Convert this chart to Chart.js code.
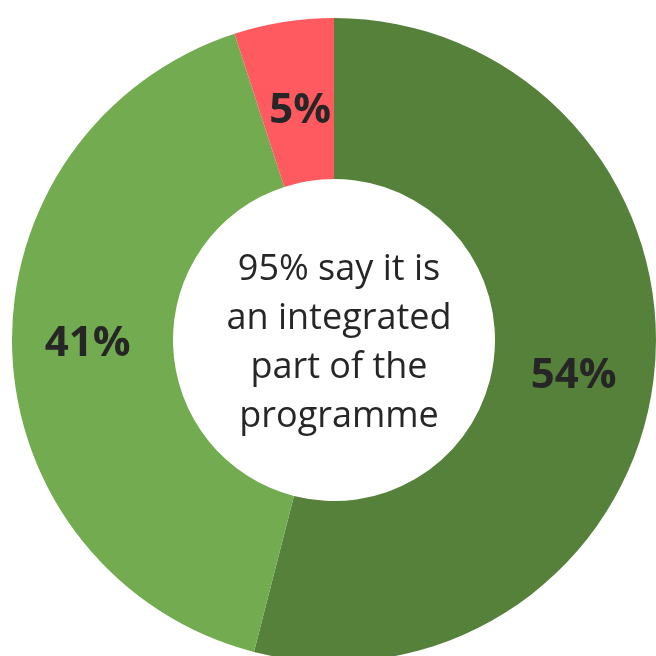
<!DOCTYPE html>
<html>
<head>
<meta charset="utf-8">
<script src="https://cdn.jsdelivr.net/npm/chart.js@4/dist/chart.umd.min.js"></script>
<style>
  html, body { margin: 0; padding: 0; background: #fff; width: 656px; height: 656px; overflow: hidden; }
  #wrap { position: absolute; left: 12px; top: 18px; width: 644px; height: 644px; }
</style>
</head>
<body>
<div id="wrap"><canvas id="c" width="644" height="644"></canvas></div>
<script>
const categories = ['Integrated (strongly)', 'Integrated (partly)', 'Not integrated'];
const values = [54, 41, 5];
const valueLabels = ['54%', '41%', '5%'];
const sliceColors = ['#56813A', '#73AB50', '#FF5A5F'];
const centerLines = ['95% say it is', 'an integrated', 'part of the', 'programme'];

// small per-slice nudges for the value labels, in pixels
const labelNudge = [[0, 6], [-5, -4], [4, 10]];

const sliceLabels = {
  id: 'sliceLabels',
  afterDatasetsDraw(chart) {
    const ctx = chart.ctx;
    const meta = chart.getDatasetMeta(0);
    ctx.save();
    ctx.fillStyle = '#262626';
    ctx.font = 'bold 42px "Open Sans", "Noto Sans", sans-serif';
    ctx.textAlign = 'center';
    ctx.textBaseline = 'middle';
    meta.data.forEach((arc, i) => {
      const p = arc.tooltipPosition();
      ctx.fillText(valueLabels[i], p.x + labelNudge[i][0], p.y + labelNudge[i][1]);
    });
    ctx.restore();
  }
};

const centerText = {
  id: 'centerText',
  afterDatasetsDraw(chart) {
    const ctx = chart.ctx;
    const arc = chart.getDatasetMeta(0).data[0];
    const cx = arc.x + 5, cy = arc.y + 3;
    const lh = 49;
    ctx.save();
    ctx.fillStyle = '#262626';
    ctx.font = '36px "Open Sans", "Noto Sans", sans-serif';
    ctx.textAlign = 'center';
    ctx.textBaseline = 'middle';
    const start = cy - lh * (centerLines.length - 1) / 2;
    centerLines.forEach((t, i) => ctx.fillText(t, cx, start + i * lh));
    ctx.restore();
  }
};

new Chart(document.getElementById('c'), {
  type: 'doughnut',
  data: {
    labels: categories,
    datasets: [{
      data: values,
      backgroundColor: sliceColors,
      borderWidth: 0
    }]
  },
  options: {
    responsive: false,
    animation: false,
    cutout: '50%',
    layout: { padding: 0 },
    plugins: { legend: { display: false }, tooltip: { enabled: false } }
  },
  plugins: [sliceLabels, centerText]
});
</script>
</body>
</html>
